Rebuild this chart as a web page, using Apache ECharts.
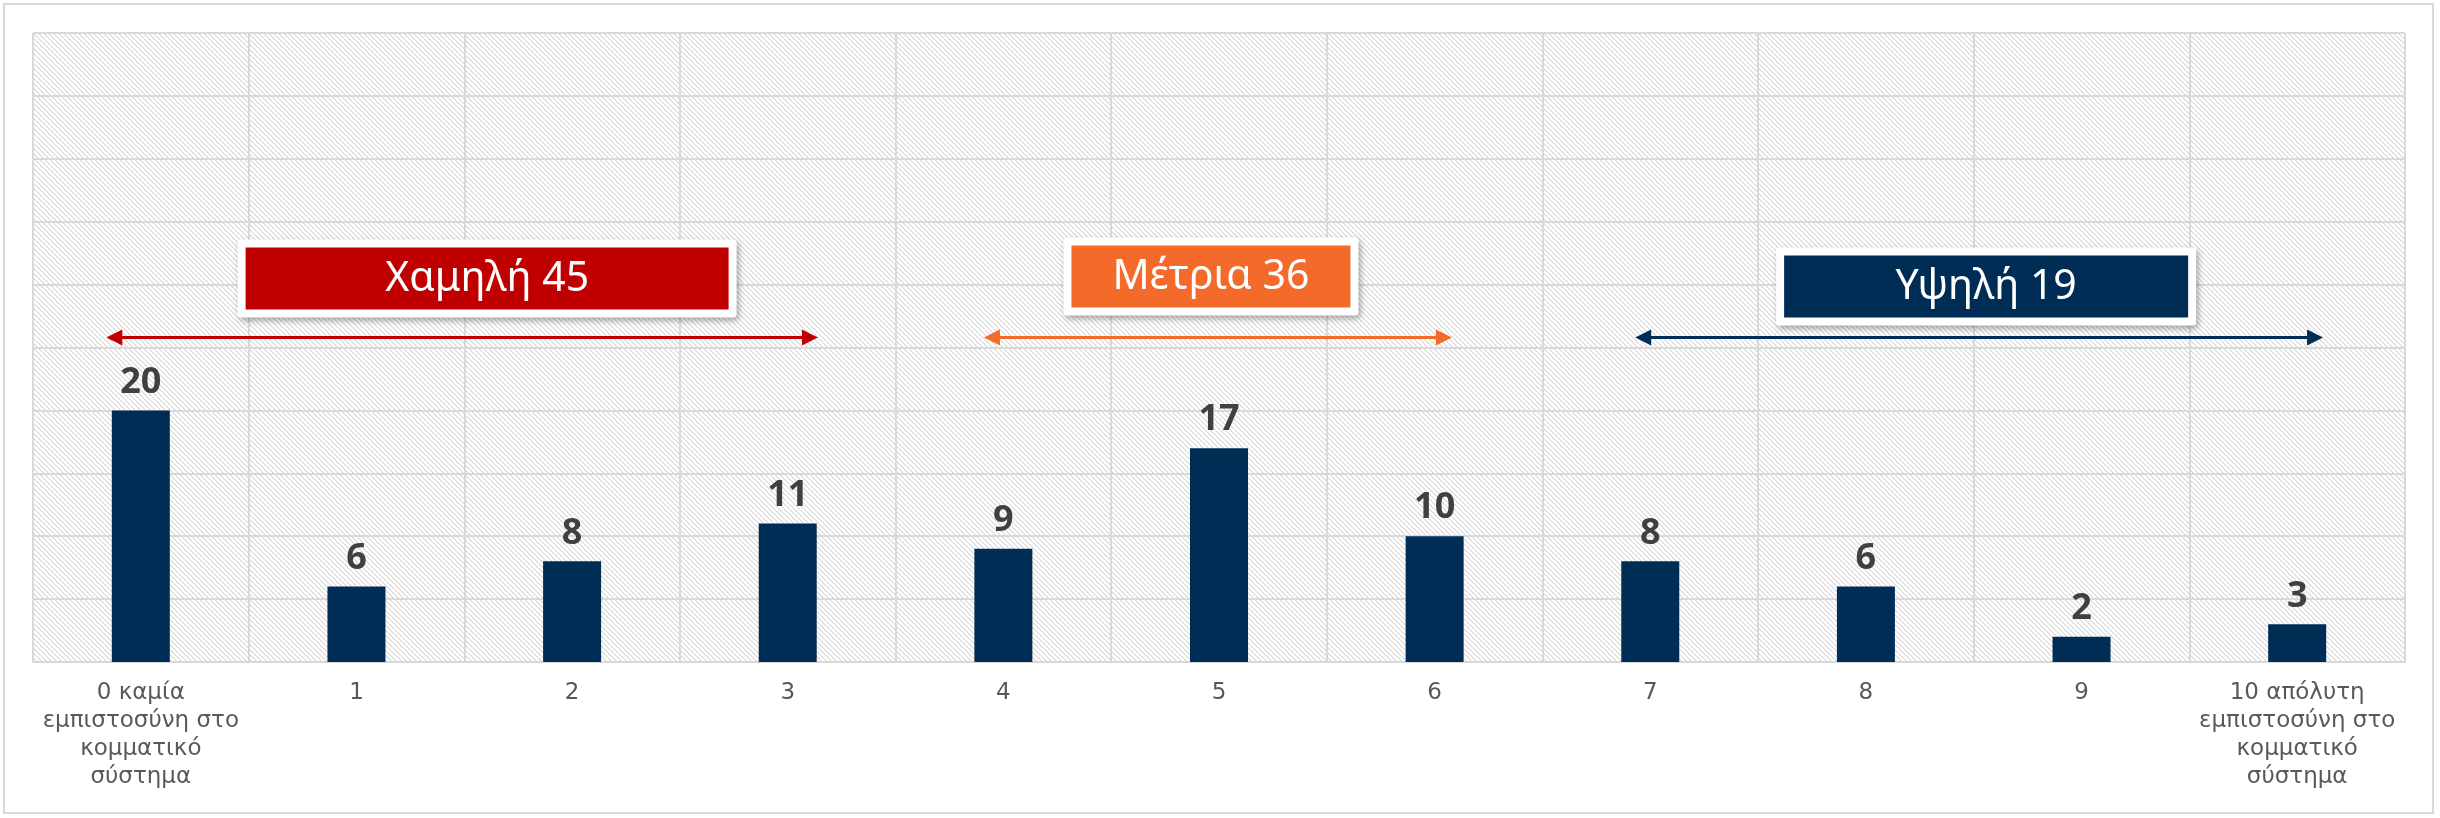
<!DOCTYPE html>
<html>
<head>
<meta charset="utf-8">
<script src="https://cdn.jsdelivr.net/npm/echarts@6/dist/echarts.min.js"></script>
<style>
  html, body { margin: 0; padding: 0; background: #fff; }
  #chart { width: 2440px; height: 818px; }
</style>
</head>
<body>
<div id="chart"></div>
<script>
// κατηγορίες (κλίμακα εμπιστοσύνης 0-10)
const categories = [
  '0 καμία\nεμπιστοσύνη στο\nκομματικό\nσύστημα',
  '1', '2', '3', '4', '5', '6', '7', '8', '9',
  '10 απόλυτη\nεμπιστοσύνη στο\nκομματικό\nσύστημα'
];
const values = [20, 6, 8, 11, 9, 17, 10, 8, 6, 2, 3];

// ομάδες: χαμηλή / μέτρια / υψηλή
const groupNames = ['Χαμηλή', 'Μέτρια', 'Υψηλή'];
const groupFrom = [0, 4, 7];
const groupTo = [3, 6, 10];
const groupColors = ['#C00000', '#F46A2A', '#002D56'];

// θέση βελών/πλαισίων (σε μονάδες κατηγορίας και px)
const arrowStart = [-0.16, 3.91, 6.93];
const arrowEnd = [3.14, 6.08, 10.12];
const boxWidth = [499, 295, 420];
const boxShiftX = [25, -7, 7];
const boxGap = [20, 22, 12];

const yMax = 50;
const yStep = 5;
const arrowLevel = 25.8;

const chart = echarts.init(document.getElementById('chart'));

// φόντο με διαγώνιες γραμμές
const hatch = document.createElement('canvas');
hatch.width = 5;
hatch.height = 5;
const hctx = hatch.getContext('2d');
hctx.fillStyle = '#ffffff';
hctx.fillRect(0, 0, 5, 5);
for (let i = 0; i < 5; i++) {
  hctx.fillStyle = '#d6d6d6';
  hctx.fillRect(i, i, 1, 1);
  hctx.fillStyle = '#ededed';
  hctx.fillRect((i + 1) % 5, i, 1, 1);
}

const option = {
  animation: false,
  grid: {
    left: 33,
    right: 35,
    top: 33,
    bottom: 156,
    show: true,
    borderWidth: 0,
    backgroundColor: { image: hatch, repeat: 'repeat' }
  },
  xAxis: {
    type: 'category',
    data: categories,
    axisLine: { lineStyle: { color: '#d9d9d9', width: 2 } },
    axisTick: { show: false },
    splitLine: { show: true, lineStyle: { color: '#d9d9d9', width: 2 } },
    axisLabel: {
      interval: 0,
      color: '#595959',
      fontSize: 23,
      lineHeight: 28,
      margin: 17,
      fontFamily: 'DejaVu Sans'
    }
  },
  yAxis: {
    type: 'value',
    min: 0,
    max: yMax,
    interval: yStep,
    axisLabel: { show: false },
    axisLine: { show: false },
    axisTick: { show: false },
    splitLine: { lineStyle: { color: '#d9d9d9', width: 2 } }
  },
  series: [
    {
      type: 'bar',
      data: values,
      barWidth: 58,
      itemStyle: { color: '#002D56' },
      label: {
        show: true,
        position: 'top',
        distance: 10,
        color: '#404040',
        fontSize: 36,
        fontWeight: 'bold',
        fontFamily: 'Noto Sans'
      }
    }
  ]
};

chart.setOption(option);

// βέλη και πλαίσια
const x0 = chart.convertToPixel({ gridIndex: 0 }, [0, 0])[0];
const band = chart.convertToPixel({ gridIndex: 0 }, [1, 0])[0] - x0;
const catX = f => x0 + f * band;
const arrowY = chart.convertToPixel({ gridIndex: 0 }, [0, arrowLevel])[1];

const elements = [
  {
    type: 'rect',
    shape: { x: 4, y: 4, width: 2429, height: 809 },
    style: { fill: 'none', stroke: '#d9d9d9', lineWidth: 2 },
    silent: true,
    z: -10
  }
];

groupNames.forEach((name, g) => {
  let total = 0;
  for (let i = groupFrom[g]; i <= groupTo[g]; i++) total += values[i];
  const color = groupColors[g];
  const xa = catX(arrowStart[g]);
  const xb = catX(arrowEnd[g]);
  const head = 16;
  const half = 8;

  elements.push({
    type: 'line',
    shape: { x1: xa + head - 2, y1: arrowY, x2: xb - head + 2, y2: arrowY },
    style: { stroke: color, lineWidth: 3 },
    z: 10
  });
  elements.push({
    type: 'polygon',
    shape: { points: [[xa, arrowY], [xa + head, arrowY - half], [xa + head, arrowY + half]] },
    style: { fill: color },
    z: 10
  });
  elements.push({
    type: 'polygon',
    shape: { points: [[xb, arrowY], [xb - head, arrowY - half], [xb - head, arrowY + half]] },
    style: { fill: color },
    z: 10
  });

  const w = boxWidth[g];
  const h = 78;
  const cx = (xa + xb) / 2 + boxShiftX[g];
  const bottom = arrowY - boxGap[g];
  const top = bottom - h;
  elements.push({
    type: 'rect',
    shape: { x: cx - w / 2, y: top, width: w, height: h, r: 3 },
    style: {
      fill: '#ffffff',
      shadowBlur: 6,
      shadowOffsetX: 2,
      shadowOffsetY: 3,
      shadowColor: 'rgba(0,0,0,0.35)'
    },
    z: 11
  });
  elements.push({
    type: 'rect',
    shape: { x: cx - w / 2 + 8, y: top + 8, width: w - 16, height: h - 16 },
    style: { fill: color },
    z: 12
  });
  elements.push({
    type: 'text',
    style: {
      text: name + ' ' + total,
      x: cx,
      y: top + h / 2 + 1,
      fill: '#ffffff',
      font: '41px "Noto Sans"',
      align: 'center',
      verticalAlign: 'middle'
    },
    z: 13
  });
});

chart.setOption({ graphic: elements });
</script>
</body>
</html>
